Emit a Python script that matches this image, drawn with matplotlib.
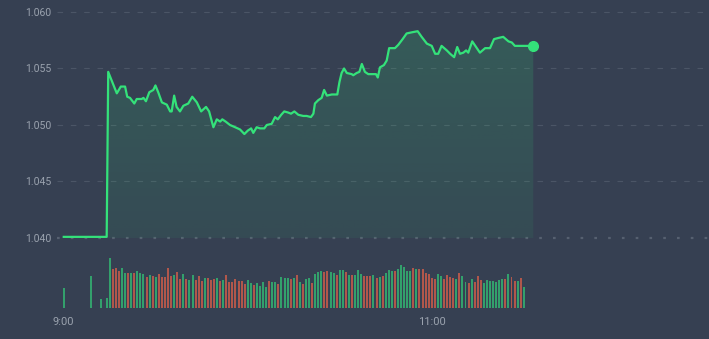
import matplotlib
matplotlib.use("Agg")
import matplotlib.pyplot as plt
import numpy as np
from matplotlib.colors import to_rgb

BG = "#364052"
GRID = "#4b5566"
REF = "#566070"
LABEL = "#9aa2ae"
LINE = "#34e27a"
UP = "#33a06c"
DOWN = "#b0574b"

# price line: minutes after 9:00, price
line_minutes = [0, 14.0, 14.5, 17.3, 18.6, 20.0, 20.7, 21.6, 23.0, 23.8, 25.4, 26.0,
                26.8, 27.9, 29.2, 29.9, 30.8, 32.0, 33.6, 34.7, 35.2, 36.0, 36.8,
                37.9, 39.0, 40.6, 41.9, 43.4, 44.8, 46.4, 47.4, 48.3, 48.8, 49.9,
                51.0, 51.7, 52.8, 54.2, 55.9, 57.5, 58.9, 60.0, 61.1, 61.8, 62.9,
                64.0, 65.4, 66.2, 67.8, 68.9, 69.8, 70.9, 71.9, 73.2, 74.1, 75.2,
                76.5, 78.1, 79.2, 80.6, 81.4, 81.9, 83.0, 84.1, 84.9, 85.8, 87.4,
                89.2, 89.9, 90.6, 91.4, 92.3, 93.9, 94.4, 95.5, 96.4, 97.2, 98.2,
                99.3, 101.8, 102.4, 103.1, 104.4, 105.3, 106.1, 108.0, 109.1, 110.5,
                111.8, 113.5, 115.4, 116.7, 118.4, 120.0, 121.1, 122.1, 123.2, 124.9,
                126.0, 127.3, 128.3, 129.2, 130.3, 131.2, 131.9, 133.2, 134.7, 135.7,
                137.4, 139.0, 140.3, 141.7, 143.3, 145.0, 146.1, 147.1, 153.1]
line_prices = [1.0401, 1.0401, 1.0547, 1.0528, 1.0534, 1.0534, 1.0525, 1.0524, 1.0519,
               1.0523, 1.0523, 1.0524, 1.0521, 1.0529, 1.0531, 1.0535, 1.0529, 1.0520,
               1.0518, 1.0512, 1.0512, 1.0526, 1.0516, 1.0512, 1.0517, 1.0519, 1.0525,
               1.0520, 1.0512, 1.0516, 1.0512, 1.0503, 1.0498, 1.0505, 1.0503, 1.0505,
               1.0503, 1.0500, 1.0498, 1.0496, 1.0492, 1.0495, 1.0497, 1.0493, 1.0498,
               1.0497, 1.0497, 1.0500, 1.0501, 1.0507, 1.0505, 1.0509, 1.0512, 1.0511,
               1.0510, 1.0512, 1.0509, 1.0508, 1.0508, 1.0507, 1.0510, 1.0519, 1.0522,
               1.0524, 1.0531, 1.0526, 1.0527, 1.0527, 1.0538, 1.0546, 1.0550, 1.0546,
               1.0545, 1.0544, 1.0546, 1.0547, 1.0554, 1.0547, 1.0545, 1.0545, 1.0542,
               1.0551, 1.0553, 1.0557, 1.0568, 1.0568, 1.0571, 1.0576, 1.0581, 1.0582,
               1.0583, 1.0578, 1.0572, 1.0570, 1.0563, 1.0563, 1.0570, 1.0566, 1.0563,
               1.0560, 1.0569, 1.0563, 1.0564, 1.0566, 1.0564, 1.0574, 1.0568, 1.0564,
               1.0568, 1.0568, 1.0576, 1.0577, 1.0578, 1.0574, 1.0573, 1.0570, 1.0570]

# volume per minute
early_minutes = [0, 9, 12, 14]
early_volumes = [20, 32, 9, 10]
session_volumes = [50, 39, 40, 37, 40, 35, 35, 35, 35, 37,
                   35, 34, 31, 33, 32, 31, 34, 31, 31, 40,
                   32, 33, 36, 29, 34, 29, 28, 33, 28, 32,
                   27, 30, 30, 28, 29, 30, 27, 28, 33, 26,
                   26, 29, 27, 27, 24, 28, 25, 23, 25, 22,
                   26, 21, 27, 26, 26, 24, 31, 30, 30, 29,
                   30, 33, 26, 24, 29, 30, 25, 34, 36, 37,
                   36, 37, 36, 35, 33, 38, 38, 36, 33, 33,
                   33, 38, 34, 32, 32, 32, 33, 30, 31, 32,
                   35, 38, 37, 37, 39, 43, 41, 37, 37, 40,
                   39, 39, 39, 35, 34, 30, 29, 34, 32, 29,
                   33, 31, 30, 29, 35, 32, 26, 25, 29, 26,
                   32, 28, 25, 28, 27, 27, 26, 28, 29, 29,
                   34, 31, 27, 27, 30, 21]
session_dirs = ("GRRRGGRGRG" "GGRGRGRRRR" "RGRRGRGGRR" "RGRRRGRGRR" "RRRRRGGRGG"
                "GGRGGRGGGR" "GRGRGGRGGG" "RRGGRGGRGR" "GGGRRRGRGR" "GGGRGGGGGR"
                "GRRRRRRGGR" "RRRGRGGRGR" "RRGGGGGGGR" "GRRGRG")
session_start = 15

tick_minutes = [0, 120]
tick_labels = ["9:00", "11:00"]
price_levels = [1.040, 1.045, 1.050, 1.055, 1.060]
prev_close = 1.040

plt.rcParams["font.family"] = ["Roboto", "DejaVu Sans"]
W, H = 709, 339
fig = plt.figure(figsize=(W / 100, H / 100), dpi=100, facecolor=BG)

xlim = (-2.2, 210.4)
ylim = (1.03938, 1.06106)
ax = fig.add_axes([57 / W, (H - 245) / H, (W - 57) / W, 245 / H])
axv = fig.add_axes([57 / W, (H - 308.3) / H, (W - 57) / W, 56.3 / H])
for a in (ax, axv):
    a.set_facecolor("none")
    a.set_xlim(*xlim)
    for s in a.spines.values():
        s.set_visible(False)

ax.set_ylim(*ylim)
for lvl in price_levels:
    if lvl == prev_close:
        ax.axhline(lvl, color=REF, lw=1.6, ls=(0, (1.2, 5)), zorder=1)
    else:
        ax.axhline(lvl, color=GRID, lw=0.8, ls=(0, (5, 7)), zorder=1)

# area under the line: vertical gradient, clipped to the filled region
area = ax.fill_between(line_minutes, line_prices, prev_close, color="none", lw=0)
top = max(line_prices)
grad = np.zeros((100, 1, 4))
grad[:, 0, :3] = to_rgb(LINE)
grad[:, 0, 3] = np.linspace(0.07, 0.17, 100)[:, None].ravel()
img = ax.imshow(grad, aspect="auto", origin="lower", zorder=2,
                extent=[line_minutes[0], line_minutes[-1], prev_close, top])
img.set_clip_path(area.get_paths()[0], transform=ax.transData)
ax.set_xlim(*xlim)
ax.set_ylim(*ylim)

ax.plot(line_minutes, line_prices, color=LINE, lw=1.6, zorder=3,
        solid_joinstyle="round")
ax.plot(line_minutes[-1], line_prices[-1], "o", color=LINE, ms=7, zorder=4,
        clip_on=False)

ax.set_yticks(price_levels)
ax.set_yticklabels([f"{v:.3f}" for v in price_levels])
ax.tick_params(axis="y", length=0, pad=4, labelsize=7.5, labelcolor=LABEL)
ax.set_xticks([])

minutes = early_minutes + list(range(session_start, session_start + len(session_volumes)))
volumes = early_volumes + session_volumes
colors = [UP] * len(early_minutes) + [UP if d == "G" else DOWN for d in session_dirs]
axv.bar(minutes, volumes, width=0.65, color=colors, lw=0)
axv.set_ylim(0, 56.3)
axv.set_yticks([])
axv.set_xticks(tick_minutes)
axv.set_xticklabels(tick_labels)
axv.tick_params(axis="x", length=0, pad=6, labelsize=8, labelcolor=LABEL)

fig.savefig("out.png", dpi=100, facecolor=BG)
